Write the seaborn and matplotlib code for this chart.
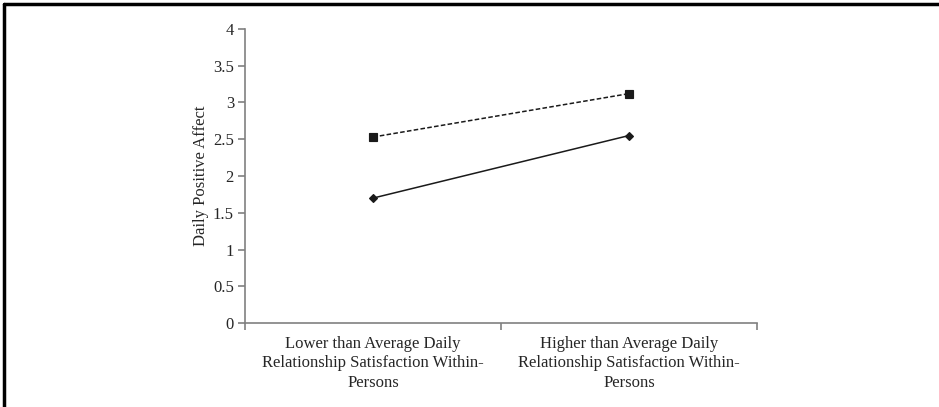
import matplotlib
matplotlib.use("Agg")
import matplotlib.pyplot as plt
import seaborn as sns
import pandas as pd
from matplotlib.lines import Line2D

# data
conditions = ["Lower than Average Daily\nRelationship Satisfaction Within-\nPersons",
              "Higher than Average Daily\nRelationship Satisfaction Within-\nPersons"]
series_names = ["dashed", "solid"]
dashed_vals = [2.53, 3.12]
solid_vals = [1.70, 2.55]
y_ticks = [0, 0.5, 1, 1.5, 2, 2.5, 3, 3.5, 4]

df = pd.DataFrame({
    "cond": conditions * 2,
    "val": dashed_vals + solid_vals,
    "series": [series_names[0]] * 2 + [series_names[1]] * 2,
})

sns.set_style("white")
plt.rcParams["font.family"] = ["Liberation Serif", "DejaVu Serif"]

fig = plt.figure(figsize=(9.39, 4.07), dpi=100)
ax = fig.add_axes([0.261, 0.206, 0.545, 0.723])

sns.pointplot(data=df, x="cond", y="val", hue="series", order=conditions,
              hue_order=series_names, markers=["s", "D"], linestyles=["--", "-"],
              palette=["#1a1a1a", "#1a1a1a"], markersize=4.5, linewidth=1.1,
              legend=False, ax=ax)
for ln in ax.lines:
    if ln.get_linestyle() == "--":
        ln.set_dashes([3, 1.5])
        ln.set_markersize(5.5)

ax.set_xlim(-0.5, 1.5)
ax.set_ylim(0, 4)
ax.set_yticks(y_ticks)
ax.set_yticklabels([f"{t:g}" for t in y_ticks])
ax.set_xticks([-0.5, 0.5, 1.5], minor=True)
ax.tick_params(axis="x", which="major", bottom=True, length=0, pad=9, labelsize=12)
ax.tick_params(axis="x", which="minor", bottom=True, length=5, width=1.2,
               color="#808080", direction="out")
ax.tick_params(axis="y", left=True, length=5, width=1.2, color="#808080",
               direction="out", labelsize=12, pad=3)
for lab in ax.get_xticklabels():
    lab.set_linespacing(1.3)
ax.set_xlabel("")
ax.set_ylabel("Daily Positive Affect", fontsize=12, labelpad=3)

for s in ["top", "right"]:
    ax.spines[s].set_visible(False)
for s in ["left", "bottom"]:
    ax.spines[s].set_color("#808080")
    ax.spines[s].set_linewidth(1.2)

# frame around the figure (only top and left edges visible)
fig.add_artist(Line2D([0.004, 1.0], [0.99, 0.99], color="black", linewidth=2.5, transform=fig.transFigure))
fig.add_artist(Line2D([0.004, 0.004], [0.0, 0.99], color="black", linewidth=2.5, transform=fig.transFigure))

fig.savefig("out.png", dpi=100)
